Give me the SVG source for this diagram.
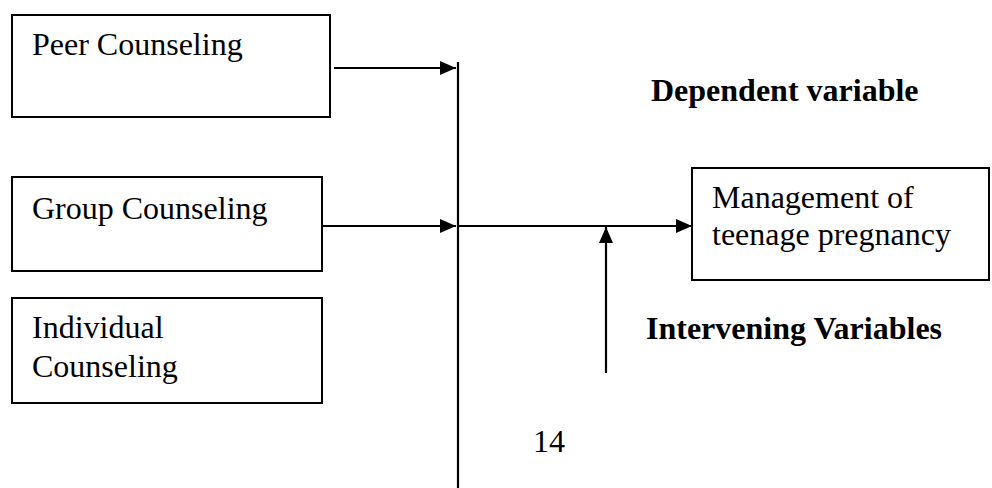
<svg xmlns="http://www.w3.org/2000/svg" width="992" height="488" viewBox="0 0 992 488">
<style>
.box{fill:#fff;stroke:#000;stroke-width:2}
.t{font-family:"Liberation Serif","Times New Roman",serif;font-size:32px;fill:#000}
.b{font-weight:bold}
.c{stroke:#000;stroke-width:2.2;fill:none}
</style>
<defs>
<marker id="ah" markerUnits="userSpaceOnUse" markerWidth="16" markerHeight="14" refX="16" refY="7" orient="auto">
<path d="M0,0 L16,7 L0,14 z" fill="#000"/>
</marker>
</defs>
<rect width="992" height="488" fill="#fff"/>
<g id="peer">
<rect class="box" x="12" y="15" width="318" height="102"/>
<text class="t" x="32" y="55">Peer Counseling</text>
</g>
<g id="group">
<rect class="box" x="12" y="177" width="310" height="94"/>
<text class="t" x="32" y="219">Group Counseling</text>
</g>
<g id="individual">
<rect class="box" x="12" y="298" width="310" height="105"/>
<text class="t" x="32" y="338">Individual</text>
<text class="t" x="32" y="377">Counseling</text>
</g>
<g id="management">
<rect class="box" x="692" y="168" width="297" height="112"/>
<text class="t" x="712" y="208">Management of</text>
<text class="t" x="712" y="245">teenage pregnancy</text>
</g>
<g id="labels">
<text class="t b" x="651" y="101">Dependent variable</text>
<text class="t b" x="646" y="339">Intervening Variables</text>
<text class="t" x="533" y="452">14</text>
</g>
<g id="connectors">
<line class="c" x1="458" y1="62" x2="458" y2="488"/>
<line class="c" x1="334" y1="68" x2="456" y2="68" marker-end="url(#ah)"/>
<line class="c" x1="322" y1="226" x2="456" y2="226" marker-end="url(#ah)"/>
<line class="c" x1="458" y1="226" x2="692" y2="226" marker-end="url(#ah)"/>
<line class="c" x1="606" y1="373" x2="606" y2="227" marker-end="url(#ah)"/>
</g>
</svg>
